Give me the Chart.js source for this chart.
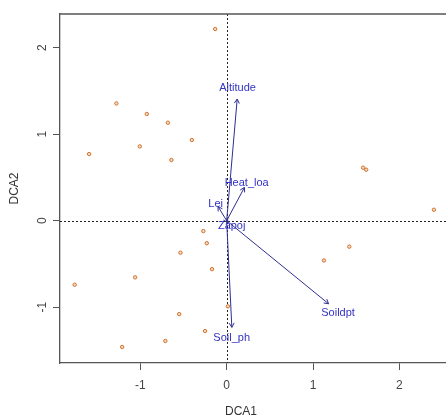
<!DOCTYPE html>
<html lang="en">
<head>
<meta charset="UTF-8" />
<title>DCA biplot</title>
<script src="https://cdn.jsdelivr.net/npm/chart.js"></script>
<style>
  html, body { margin: 0; padding: 0; background: #fff; overflow: hidden; }
</style>
</head>
<body>
<canvas id="dcaChart" width="446" height="418"></canvas>
<script>
  // site scores (DCA1, DCA2)
  const siteX = [-0.133, -1.277, -0.925, -0.681, -0.403, -1.593, -1.006, -0.640, 1.58, 1.616, 2.40,
    -0.27, -0.23, -0.535, -0.17, -1.06, -1.76, 0.014, -0.55, -0.25, -0.71, -1.21, 1.42, 1.126];
  const siteY = [2.216, 1.356, 1.234, 1.133, 0.933, 0.771, 0.859, 0.702, 0.613, 0.59, 0.127,
    -0.12, -0.26, -0.37, -0.56, -0.655, -0.74, -0.99, -1.08, -1.275, -1.39, -1.46, -0.30, -0.46];

  // fitted environmental vectors
  const envNames = ['Altitude', 'Heat_loa', 'Lei', 'Zapoj', 'Soildpt', 'Soil_ph'];
  const envX = [0.122, 0.206, -0.10, 0.012, 1.18, 0.06];
  const envY = [1.407, 0.385, 0.165, -0.02, -0.96, -1.233];
  const labelX = [0.127, 0.232, -0.127, 0.058, 1.29, 0.058];
  const labelY = [1.538, 0.439, 0.191, -0.058, -1.064, -1.353];

  const xTicks = [-1, 0, 1, 2];
  const yTicks = [-1, 0, 1, 2];
  const xRange = [-1.93, 2.54];
  const yRange = [-1.645, 2.39];

  const fontFam = '"Liberation Sans", Arial, sans-serif';
  const axisCol = '#555';
  const arrowCol = '#2e2e92';
  const textCol = '#3232c4';

  const overlay = {
    id: 'overlay',
    beforeDatasetsDraw(chart) {
      const { ctx, chartArea: a, scales: { x, y } } = chart;
      ctx.save();
      // dotted zero lines
      ctx.strokeStyle = '#222';
      ctx.lineWidth = 1;
      ctx.setLineDash([2, 2]);
      const x0 = Math.round(x.getPixelForValue(0)) + 0.5;
      const y0 = Math.round(y.getPixelForValue(0)) + 0.5;
      ctx.beginPath();
      ctx.moveTo(x0, a.top); ctx.lineTo(x0, a.bottom);
      ctx.moveTo(a.left, y0); ctx.lineTo(a.right, y0);
      ctx.stroke();
      ctx.setLineDash([]);
      // top frame line
      ctx.strokeStyle = axisCol;
      ctx.lineWidth = 1.3;
      ctx.beginPath();
      ctx.moveTo(a.left, a.top); ctx.lineTo(a.right, a.top);
      ctx.stroke();
      ctx.restore();
    },
    afterDatasetsDraw(chart) {
      const { ctx, scales: { x, y } } = chart;
      ctx.save();
      const ox = x.getPixelForValue(0), oy = y.getPixelForValue(0);
      ctx.strokeStyle = arrowCol;
      ctx.lineWidth = 1;
      envNames.forEach((n, i) => {
        const tx = x.getPixelForValue(envX[i]), ty = y.getPixelForValue(envY[i]);
        ctx.beginPath();
        ctx.moveTo(ox, oy); ctx.lineTo(tx, ty);
        const ang = Math.atan2(ty - oy, tx - ox), len = 5, spread = Math.PI / 6;
        ctx.moveTo(tx - len * Math.cos(ang - spread), ty - len * Math.sin(ang - spread));
        ctx.lineTo(tx, ty);
        ctx.lineTo(tx - len * Math.cos(ang + spread), ty - len * Math.sin(ang + spread));
        ctx.stroke();
      });
      ctx.fillStyle = textCol;
      ctx.font = '11px ' + fontFam;
      ctx.textAlign = 'center';
      ctx.textBaseline = 'middle';
      envNames.forEach((n, i) => {
        ctx.fillText(n, x.getPixelForValue(labelX[i]), y.getPixelForValue(labelY[i]));
      });

      // y tick labels (rotated, like R)
      ctx.fillStyle = '#444';
      ctx.font = '12px ' + fontFam;
      yTicks.forEach(v => {
        ctx.save();
        ctx.translate(43, y.getPixelForValue(v));
        ctx.rotate(-Math.PI / 2);
        ctx.fillText(String(v), 0, 0);
        ctx.restore();
      });

      // axis titles
      ctx.fillStyle = '#333';
      ctx.fillText('DCA1', 241, 412);
      ctx.save();
      ctx.translate(15, (chart.chartArea.top + chart.chartArea.bottom) / 2);
      ctx.rotate(-Math.PI / 2);
      ctx.fillText('DCA2', 0, 0);
      ctx.restore();
      ctx.restore();
    }
  };

  new Chart(document.getElementById('dcaChart'), {
    type: 'scatter',
    data: {
      datasets: [{
        label: 'sites',
        data: siteX.map((v, i) => ({ x: v, y: siteY[i] })),
        pointStyle: 'circle',
        pointRadius: 1.7,
        borderWidth: 1,
        borderColor: '#d0702a',
        backgroundColor: '#f4dcc6'
      }]
    },
    options: {
      responsive: false,
      animation: false,
      events: [],
      layout: { autoPadding: false, padding: { top: 14, right: 0, left: 0, bottom: 0 } },
      plugins: { legend: { display: false }, tooltip: { enabled: false } },
      scales: {
        x: {
          type: 'linear',
          min: xRange[0], max: xRange[1],
          afterBuildTicks: s => { s.ticks = xTicks.map(v => ({ value: v })); },
          afterFit: s => { s.height = 55; s.paddingLeft = 0; s.paddingRight = 0; },
          grid: { drawOnChartArea: false, drawTicks: true, tickLength: 7, tickColor: axisCol, tickWidth: 1 },
          border: { display: true, color: axisCol, width: 1.3 },
          ticks: { padding: 8, color: '#444', font: { family: fontFam, size: 12 }, callback: v => String(v) }
        },
        y: {
          type: 'linear',
          min: yRange[0], max: yRange[1],
          afterBuildTicks: s => { s.ticks = yTicks.map(v => ({ value: v })); },
          afterFit: s => { s.width = 60; s.paddingTop = 0; s.paddingBottom = 0; },
          grid: { drawOnChartArea: false, drawTicks: true, tickLength: 7, tickColor: axisCol, tickWidth: 1 },
          border: { display: true, color: axisCol, width: 1.3 },
          ticks: { display: false }
        }
      }
    },
    plugins: [overlay]
  });
</script>
</body>
</html>
